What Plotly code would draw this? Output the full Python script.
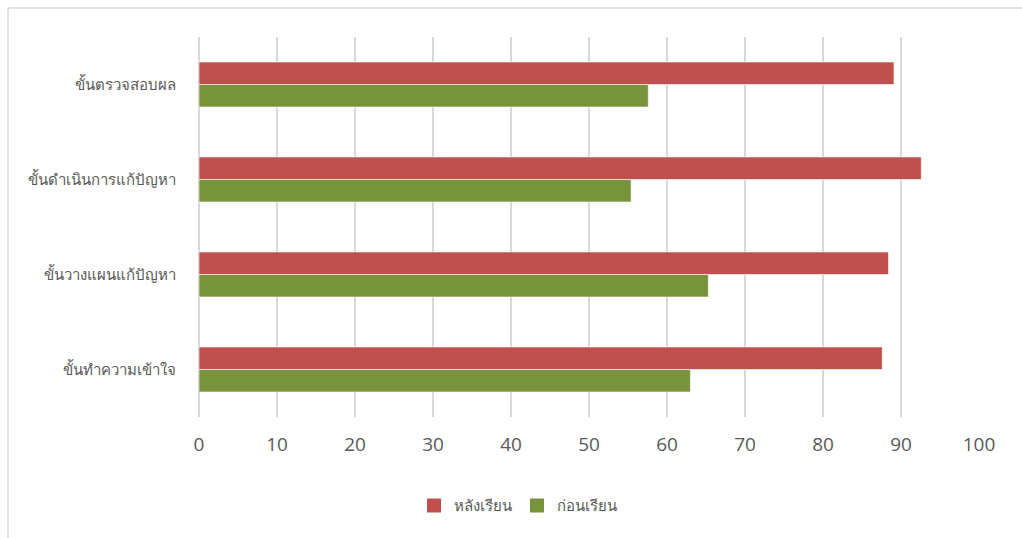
import plotly.graph_objects as go

categories = ["ขั้นทำความเข้าใจ", "ขั้นวางแผนแก้ปัญหา", "ขั้นดำเนินการแก้ปัญหา", "ขั้นตรวจสอบผล"]
before = [63.0, 65.3, 55.4, 57.6]   # ก่อนเรียน
after = [87.6, 88.4, 92.6, 89.1]    # หลังเรียน
x_ticks = [0, 10, 20, 30, 40, 50, 60, 70, 80, 90, 100]

RED = "#C0504D"
GREEN = "#77933C"

W, H = 1022, 538
L, R, T, B = 199, 43, 37, 121

fig = go.Figure()
fig.add_trace(go.Bar(
    y=categories, x=before, name="ก่อนเรียน", orientation="h",
    marker=dict(color=GREEN, line=dict(color="rgba(255,255,255,0.6)", width=1)),
    showlegend=False,
))
fig.add_trace(go.Bar(
    y=categories, x=after, name="หลังเรียน", orientation="h",
    marker=dict(color=RED, line=dict(color="rgba(255,255,255,0.6)", width=1)),
    showlegend=False,
))
# legend entries with larger square swatches
fig.add_trace(go.Scatter(x=[None], y=[None], mode="markers", name="หลังเรียน",
                         marker=dict(symbol="square", size=14, color=RED), legendrank=1))
fig.add_trace(go.Scatter(x=[None], y=[None], mode="markers", name="ก่อนเรียน",
                         marker=dict(symbol="square", size=14, color=GREEN), legendrank=2))

pw = W - L - R
ph = H - T - B
# outer chart frame (left and top edges visible)
fig.add_shape(type="line", xref="paper", yref="paper",
              x0=(8 - L) / pw, x1=(W + 5 - L) / pw,
              y0=(H - 8 - B) / ph, y1=(H - 8 - B) / ph,
              line=dict(color="#D9D9D9", width=1.5))
fig.add_shape(type="line", xref="paper", yref="paper",
              x0=(8 - L) / pw, x1=(8 - L) / pw,
              y0=(H - 8 - B) / ph, y1=(-5 - B) / ph,
              line=dict(color="#D9D9D9", width=1.5))

fig.update_layout(
    width=W, height=H,
    margin=dict(l=L, r=R, t=T, b=B, pad=0),
    paper_bgcolor="white", plot_bgcolor="white",
    barmode="group", bargap=0.526, bargroupgap=0,
    font=dict(family="Open Sans, Noto Sans, sans-serif", color="#595959"),
    showlegend=True,
    legend=dict(orientation="h", x=(518 - L) / pw, xanchor="center", y=-0.19, yanchor="top",
                font=dict(size=15, color="#595959"), itemwidth=30,
                traceorder="normal"),
    xaxis=dict(range=[0, 100], tickvals=x_ticks, showgrid=True, gridcolor="#D9D9D9",
               gridwidth=1.5, zeroline=True, zerolinecolor="#D9D9D9", zerolinewidth=1.5,
               showline=False, ticks="",
               tickfont=dict(size=19, color="#595959"), ticklabelstandoff=14,
               fixedrange=True),
    yaxis=dict(range=[-0.5, 3.5], showgrid=False, zeroline=False, showline=False,
               ticks="", tickfont=dict(size=15, color="#595959"), ticklabelstandoff=22),
)

fig.write_html("out.html")
